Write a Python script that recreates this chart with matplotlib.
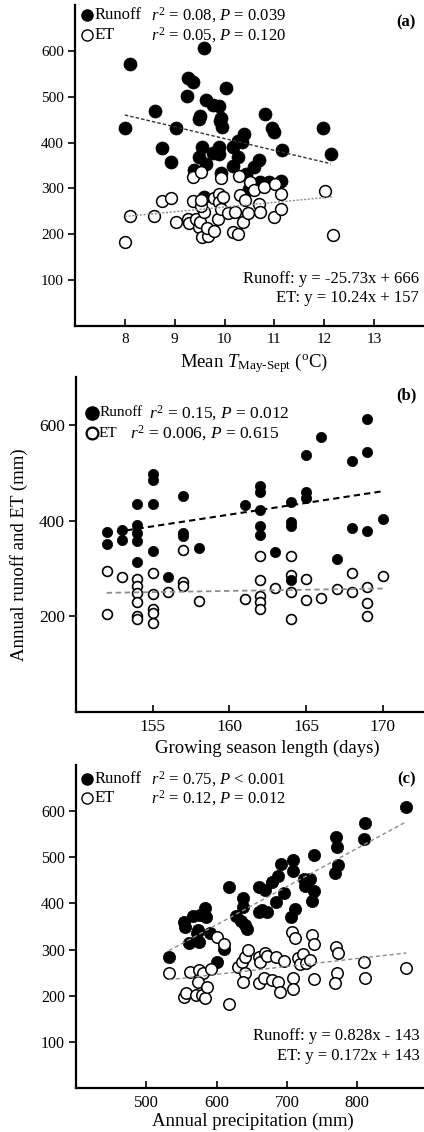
import numpy as np
import matplotlib.pyplot as plt
from matplotlib.lines import Line2D

plt.rcParams['font.family'] = ['Liberation Serif', 'DejaVu Serif']
plt.rcParams['mathtext.fontset'] = 'custom'
plt.rcParams['mathtext.rm'] = 'Liberation Serif'
plt.rcParams['mathtext.it'] = 'Liberation Serif:italic'
plt.rcParams['mathtext.bf'] = 'Liberation Serif:bold'

# ---- panel (a): mean May-Sept temperature ----
ta_runoff = [8.0, 8.1, 8.61, 8.75, 8.93, 9.02, 9.25, 9.26, 9.36, 9.58, 9.63, 9.48, 9.51, 9.76,
             9.88, 10.03, 9.93, 9.95, 9.9, 9.55, 9.38, 9.48, 9.63, 9.76, 9.89, 9.89, 9.93, 10.16,
             10.26, 10.38, 10.34, 10.16, 10.26, 10.42, 10.59, 10.69, 10.82, 10.96, 11.0, 11.15,
             11.14, 10.89, 11.98, 12.13, 9.59, 10.49, 10.72]
runoff_a = [431, 571, 468, 389, 357, 431, 502, 541, 533, 607, 493, 451, 458, 482,
            480, 520, 454, 433, 446, 390, 341, 368, 354, 378, 390, 375, 333, 390,
            404, 419, 401, 348, 368, 332, 346, 363, 462, 431, 424, 383,
            317, 314, 431, 375, 281, 299, 314]
ta_et = [8.0, 8.1, 8.58, 8.75, 8.92, 9.02, 9.26, 9.29, 9.36, 9.43, 9.49, 9.5, 9.55, 9.66, 9.64,
         9.59, 9.53, 9.78, 9.79, 9.86, 9.89, 9.89, 9.93, 9.96, 10.06, 10.16, 10.2, 10.26, 10.3,
         10.36, 10.41, 10.46, 10.52, 10.59, 10.7, 10.72, 10.8, 10.99, 11.02, 11.14, 11.14,
         12.02, 12.18, 9.36, 9.53, 9.93, 10.28, 9.53]
et_a = [183, 239, 239, 272, 280, 227, 234, 225, 272, 234, 216, 227, 194, 196, 214,
        248, 261, 280, 207, 234, 288, 270, 256, 281, 247, 205, 248, 201, 285,
        227, 274, 247, 314, 296, 267, 248, 303, 238, 310, 288, 256,
        294, 198, 325, 336, 322, 328, 274]
fit_a_runoff = [-25.73, 666]
fit_a_et = [10.24, 157]

# ---- panel (b): growing season length ----
gs_runoff = [152, 152, 153, 153, 154, 154, 154, 154, 154, 155, 155, 155, 155, 156, 157, 157, 157,
             158, 161, 162, 162, 162, 162, 162, 163, 164, 164, 164, 164, 165, 165, 165, 166, 167,
             168, 168, 169, 169, 169, 170]
runoff_b = [376, 350, 380, 359, 434, 391, 373, 358, 313, 497, 485, 434, 336, 282, 452, 375, 368,
            343, 432, 473, 459, 422, 389, 370, 335, 438, 396, 389, 275, 537, 459, 448, 575, 320,
            524, 385, 613, 544, 378, 403]
gs_et = [152, 152, 153, 154, 154, 154, 154, 154, 154, 155, 155, 155, 155, 155, 156, 157, 157, 158,
         161, 162, 162, 162, 162, 163, 164, 164, 164, 165, 165, 166, 167, 168, 168, 169, 169, 169,
         170, 157, 162, 164]
et_b = [294, 205, 282, 277, 263, 249, 229, 201, 194, 291, 247, 215, 207, 185, 251, 271, 264, 231,
        237, 275, 242, 229, 216, 260, 287, 250, 195, 277, 233, 238, 256, 290, 250, 261, 227, 201,
        285, 338, 325, 326]
fit_b_runoff = [4.89, -370]
fit_b_et = [0.5, 173]

# ---- panel (c): annual precipitation ----
pc_runoff = [870, 811, 810, 770, 771, 769, 773, 739, 708, 708, 691, 687, 679, 696, 685, 661, 669,
             617, 638, 638, 660, 665, 672, 711, 706, 725, 733, 726, 738, 736, 583, 577, 567, 585,
             553, 555, 573, 627, 634, 641, 643, 532, 561, 575, 600, 611, 572, 591]
runoff_c = [610, 575, 539, 544, 522, 466, 484, 506, 495, 471, 486, 459, 446, 423, 403, 435, 430,
            435, 412, 392, 381, 386, 381, 388, 370, 453, 453, 437, 426, 406, 391, 375, 372, 370,
            359, 350, 343, 373, 361, 354, 344, 283, 314, 317, 273, 302, 336, 336]
pc_et = [532, 562, 575, 581, 573, 554, 557, 570, 579, 583, 586, 592, 600, 611, 617, 630, 636, 640,
         644, 640, 638, 660, 662, 669, 672, 685, 696, 661, 668, 679, 687, 690, 708, 708, 716, 719,
         723, 727, 733, 739, 770, 773, 771, 769, 810, 811, 870, 707, 711, 735, 738]
et_c = [250, 252, 255, 249, 230, 198, 206, 202, 202, 194, 218, 258, 327, 313, 183, 263, 273, 283,
        298, 249, 229, 283, 273, 292, 287, 284, 276, 228, 238, 234, 229, 207, 238, 215, 282, 269,
        291, 271, 278, 236, 305, 292, 250, 228, 274, 239, 260, 339, 325, 331, 312]
fit_c_runoff = [0.828, -143]
fit_c_et = [0.172, 143]

W, H = 424, 1132
fig = plt.figure(figsize=(W / 100, H / 100), dpi=100)


def fx(x):
    return x / W


def fy(y):
    return 1 - y / H


def make_axes(left, top, bottom):
    ax = fig.add_axes([fx(left), fy(bottom), 1 - fx(left), fy(top) - fy(bottom)])
    for s in ['top', 'right']:
        ax.spines[s].set_visible(False)
    for s in ['left', 'bottom']:
        ax.spines[s].set_linewidth(1.6)
    ax.tick_params(axis='x', direction='in', length=5, width=1.2, pad=5)
    ax.tick_params(axis='y', direction='out', length=5, width=1.2, pad=3)
    return ax


def legend_marker(x, y, filled, ms, mew=1.0):
    fig.add_artist(Line2D([fx(x)], [fy(y)], marker='o', ms=ms, mew=mew,
                          mfc='black' if filled else 'white', mec='black',
                          transform=fig.transFigure))


def fitline(ax, xs, coef, **kw):
    x = np.array([min(xs), max(xs)])
    ax.plot(x, coef[0] * x + coef[1], **kw)


# (a)
ax = make_axes(75, 5, 326)
ax.scatter(ta_runoff, runoff_a, s=88, c='black', edgecolors='black', lw=0.5, zorder=2)
ax.scatter(ta_et, et_a, s=72, c='white', edgecolors='black', lw=1.1, zorder=3)
fitline(ax, ta_runoff, fit_a_runoff, color='#333333', lw=1.0, ls=(0, (2.5, 1.5)), zorder=4)
fitline(ax, ta_et, fit_a_et, color='#8c8c8c', lw=1.0, ls=(0, (1.5, 1.2)), zorder=4)
ax.set_xlim(7, 14)
ax.set_ylim(0, 700)
ax.set_xticks([8, 9, 10, 11, 12, 13])
ax.set_yticks([100, 200, 300, 400, 500, 600])
ax.tick_params(labelsize=11)

legend_marker(87, 15, True, 8)
legend_marker(87, 35, False, 8)
fig.text(fx(95), fy(15), 'Runoff', fontsize=12, va='center')
fig.text(fx(95), fy(35), 'ET', fontsize=12, va='center')
fig.text(fx(151), fy(15), r'$r^2$ = 0.08, $P$ = 0.039', fontsize=12, va='center')
fig.text(fx(151), fy(35), r'$r^2$ = 0.05, $P$ = 0.120', fontsize=12, va='center')
fig.text(fx(416), fy(22), '(a)', fontsize=12, fontweight='bold', ha='right', va='center')
fig.text(fx(419), fy(279), 'Runoff: y = -25.73x + 666', fontsize=12, ha='right', va='center')
fig.text(fx(419), fy(298), 'ET: y = 10.24x + 157', fontsize=12, ha='right', va='center')
fig.text(fx(254), fy(363), r'Mean $T_{\mathrm{May\text{-}Sept}}$ ($^{\mathrm{o}}$C)', fontsize=13.5,
         ha='center', va='center')

# (b)
ax = make_axes(76, 377, 712)
ax.scatter(gs_et, et_b, s=50, c='white', edgecolors='black', lw=1.2, zorder=2)
ax.scatter(gs_runoff, runoff_b, s=55, c='black', edgecolors='black', lw=0.5, zorder=3)
fitline(ax, gs_runoff, fit_b_runoff, color='black', lw=1.5, ls=(0, (3, 2)), zorder=4)
fitline(ax, gs_et, fit_b_et, color='#8c8c8c', lw=1.3, ls=(0, (3, 2)), zorder=4)
ax.set_xlim(150, 172.7)
ax.set_ylim(0, 700)
ax.set_xticks([155, 160, 165, 170])
ax.set_yticks([200, 400, 600])
ax.tick_params(labelsize=12.5)

legend_marker(92, 413, True, 9.5)
legend_marker(92, 433, False, 8.5, mew=1.6)
fig.text(fx(100), fy(413), 'Runoff', fontsize=11, va='center')
fig.text(fx(99), fy(433), 'ET', fontsize=11, va='center')
fig.text(fx(149), fy(413), r'$r^2$ = 0.15, $P$ = 0.012', fontsize=12.5, va='center')
fig.text(fx(130), fy(433), r'$r^2$ = 0.006, $P$ = 0.615', fontsize=12.5, va='center')
fig.text(fx(417), fy(395), '(b)', fontsize=12, fontweight='bold', ha='right', va='center')
fig.text(fx(267), fy(748), 'Growing season length (days)', fontsize=13.5, ha='center', va='center')
fig.text(fx(19), fy(555), 'Annual runoff and ET (mm)', fontsize=13.5, ha='center', va='center',
         rotation=90)

# (c)
ax = make_axes(76, 765, 1088)
ax.scatter(pc_runoff, runoff_c, s=78, c='black', edgecolors='black', lw=0.5, zorder=2)
ax.scatter(pc_et, et_c, s=68, c='white', edgecolors='black', lw=1.1, zorder=3)
fitline(ax, pc_runoff, fit_c_runoff, color='#8c8c8c', lw=1.0, ls=(0, (3, 2)), zorder=4)
fitline(ax, pc_et, fit_c_et, color='#8c8c8c', lw=1.0, ls=(0, (3, 2)), zorder=4)
ax.set_xlim(400, 895)
ax.set_ylim(0, 700)
ax.set_xticks([500, 600, 700, 800])
ax.set_yticks([100, 200, 300, 400, 500, 600])
ax.tick_params(axis='y', labelsize=11.5)
ax.tick_params(axis='x', labelsize=12)

legend_marker(87, 779, True, 8)
legend_marker(87, 798, False, 8)
fig.text(fx(95), fy(779), 'Runoff', fontsize=12, va='center')
fig.text(fx(95), fy(798), 'ET', fontsize=12, va='center')
fig.text(fx(151), fy(779), r'$r^2$ = 0.75, $P$ < 0.001', fontsize=12, va='center')
fig.text(fx(151), fy(798), r'$r^2$ = 0.12, $P$ = 0.012', fontsize=12, va='center')
fig.text(fx(416), fy(779), '(c)', fontsize=12, fontweight='bold', ha='right', va='center')
fig.text(fx(420), fy(1036), 'Runoff: y = 0.828x - 143', fontsize=12, ha='right', va='center')
fig.text(fx(420), fy(1056), 'ET: y = 0.172x + 143', fontsize=12, ha='right', va='center')
fig.text(fx(253), fy(1121), 'Annual precipitation (mm)', fontsize=13.5, ha='center', va='center')

fig.savefig('out.png', dpi=100)
